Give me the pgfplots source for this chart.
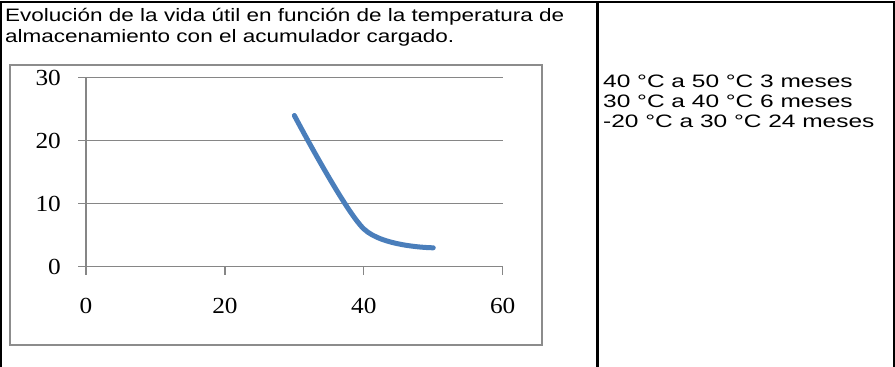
\documentclass[border=0pt]{standalone}
\usepackage{fontspec}
\setmainfont[FakeStretch=1.25]{Liberation Sans}
\newfontfamily\rightfont[FakeStretch=1.36]{Liberation Sans}
\newfontfamily\tickfont[FakeStretch=1.1]{Liberation Serif}
\usepackage{pgfplots}
\pgfplotsset{compat=1.18}
\definecolor{axgray}{RGB}{134,134,134}
\definecolor{framegray}{RGB}{140,140,140}
\definecolor{lineblue}{RGB}{74,126,187}
\begin{document}
\begin{tikzpicture}
\path[use as bounding box] (0,0) rectangle (895bp,367bp);
% table lines
\draw[black, line width=2.5bp] (1.2bp,0) -- (1.2bp,365bp) -- (893.8bp,365bp) -- (893.8bp,0);
\draw[black, line width=2.5bp] (597.5bp,0) -- (597.5bp,365bp);
% chart frame
\draw[framegray, line width=2.5bp] (10bp,302bp) rectangle (542bp,22bp);
% title
\node[anchor=base west, inner sep=0pt, font=\fontsize{18bp}{21bp}\selectfont] at (5bp,345bp) {Evolución de la vida útil en función de la temperatura de};
\node[anchor=base west, inner sep=0pt, font=\fontsize{18bp}{21bp}\selectfont] at (5bp,324bp) {almacenamiento con el acumulador cargado.};
% right cell
\node[anchor=base west, inner sep=0pt, font=\rightfont\fontsize{18bp}{21bp}\selectfont] at (603bp,279bp) {40 °C a 50 °C 3 meses};
\node[anchor=base west, inner sep=0pt, font=\rightfont\fontsize{18bp}{21bp}\selectfont] at (603bp,259bp) {30 °C a 40 °C 6 meses};
\node[anchor=base west, inner sep=0pt, font=\rightfont\fontsize{18bp}{21bp}\selectfont] at (603bp,239bp) {-20 °C a 30 °C 24 meses};
\begin{axis}[
  at={(86bp,100.3bp)}, anchor=south west,
  scale only axis, width=416.7bp, height=189bp,
  xmin=0, xmax=60, ymin=0, ymax=30,
  xtick={0,20,40,60}, ytick={0,10,20,30},
  axis x line=bottom, axis y line=left,
  axis line style={-, axgray, line width=1.2bp},
  ymajorgrids, grid style={axgray, line width=1.2bp},
  tick style={axgray, line width=1.2bp},
  tick align=outside, major tick length=8bp,
  /pgf/number format/assume math mode=true,
  tick label style={font=\tickfont\fontsize{23bp}{26bp}\selectfont, black},
  yticklabel style={anchor=east, inner sep=0pt},
  xticklabel style={anchor=north, inner sep=0pt},
  yticklabel shift=17bp,
  xticklabel shift=23bp,
]
\addplot[lineblue, line width=5bp, line cap=round, smooth] coordinates {(30,24) (40,6) (50,3)};
\end{axis}
\end{tikzpicture}
\end{document}
